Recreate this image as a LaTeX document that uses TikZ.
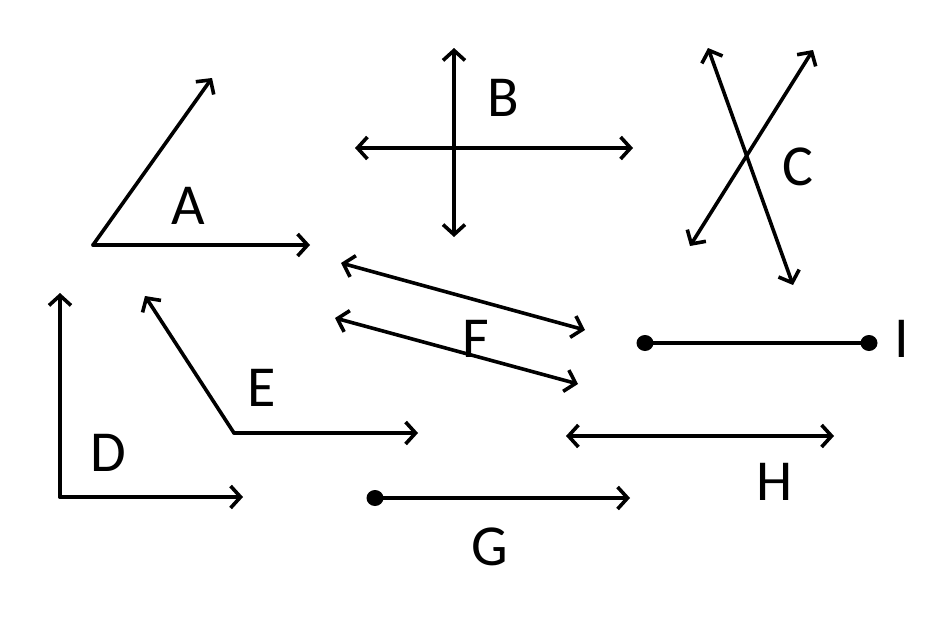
\documentclass[tikz,border=0pt]{standalone}
\usepackage{fontspec}
\setmainfont{Carlito}
\usetikzlibrary{arrows.meta,shapes.geometric}
\begin{document}
\begin{tikzpicture}[x=1pt,y=-1pt,
  ln/.style={line width=3.6pt, line cap=round},
  tip/.style={-{Straight Barb[length=10pt,width=22pt,line width=3.6pt]}},
  dtip/.style={{Straight Barb[length=10pt,width=22pt,line width=3.6pt]}-{Straight Barb[length=10pt,width=22pt,line width=3.6pt]}},
  lbl/.style={font=\fontsize{58}{60}\selectfont, inner sep=0pt},
  dot/.style={ellipse, fill=black, minimum width=17pt, minimum height=16pt, inner sep=0pt}]
\useasboundingbox (0,0) rectangle (936,621);
% A
\coordinate (a0) at (93,245); \coordinate (a1) at (212,78); \coordinate (a2) at (310,245);
\draw[ln,tip] (a0) -- (a1);
\draw[ln,tip] (a0) -- (a2);
\node[lbl] (la) at (188,206) {A};
% B
\coordinate (b1) at (454,48); \coordinate (b2) at (454,237);
\coordinate (b3) at (355,148); \coordinate (b4) at (633,148);
\draw[ln,dtip] (b1) -- (b2);
\draw[ln,dtip] (b3) -- (b4);
\node[lbl] (lb) at (503,98) {B};
% C
\coordinate (c1) at (708,48); \coordinate (c2) at (793,285);
\coordinate (c3) at (813,50); \coordinate (c4) at (690,246);
\draw[ln,dtip] (c1) -- (c2);
\draw[ln,dtip] (c3) -- (c4);
\node[lbl] (lc) at (798,167) {C};
% D
\coordinate (d0) at (60,497); \coordinate (d1) at (60,293); \coordinate (d2) at (243,497);
\draw[ln,tip] (d0) -- (d1);
\draw[ln,tip] (d0) -- (d2);
\node[lbl] (ld) at (108,453) {D};
% E
\coordinate (e0) at (234,433); \coordinate (e1) at (145,296); \coordinate (e2) at (418,433);
\draw[ln,tip] (e0) -- (e1);
\draw[ln,tip] (e0) -- (e2);
\node[lbl] (le) at (262,388) {E};
% F
\coordinate (f1) at (341,263); \coordinate (f2) at (585,330);
\coordinate (f3) at (335,318); \coordinate (f4) at (578,384);
\draw[ln,dtip] (f1) -- (f2);
\draw[ln,dtip] (f3) -- (f4);
\node[lbl] (lf) at (476,339) {F};
% G
\node[dot] (g0) at (375,498) {};
\coordinate (g1) at (630,498);
\draw[ln,tip] (g0.center) -- (g1);
\node[lbl] (lg) at (490,547) {G};
% H
\coordinate (h1) at (566,436); \coordinate (h2) at (834,436);
\draw[ln,dtip] (h1) -- (h2);
\node[lbl] (lh) at (775,482) {H};
% I
\node[dot] (i1) at (645,343) {};
\node[dot] (i2) at (869,343) {};
\draw[ln] (i1.center) -- (i2.center);
\node[lbl] (li) at (902,339) {I};
\end{tikzpicture}
\end{document}
